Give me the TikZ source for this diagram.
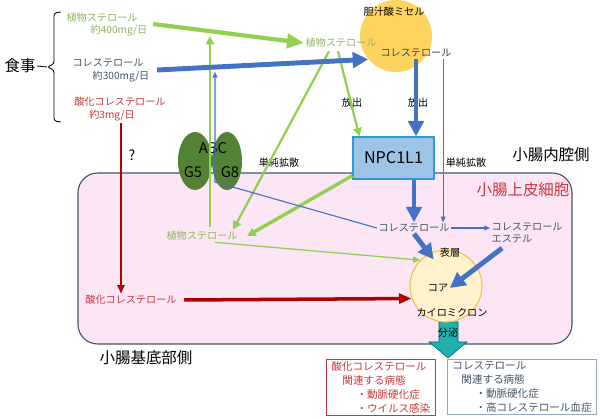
\documentclass[tikz,border=0pt]{standalone}
\usepackage{fontspec}
\setmainfont{Noto Sans CJK JP}
\usetikzlibrary{arrows.meta,calc,shapes.geometric}

\definecolor{plantgreen}{HTML}{92D050}
\definecolor{planttext}{HTML}{8DB45A}
\definecolor{cholblue}{HTML}{4472C4}
\definecolor{choltext}{HTML}{44546A}
\definecolor{oxred}{HTML}{B00000}
\definecolor{oxtext}{HTML}{C8383A}
\definecolor{cellpink}{HTML}{FCE6F6}
\definecolor{cellline}{HTML}{44546A}
\definecolor{abcgreen}{HTML}{548235}
\definecolor{npcfill}{HTML}{9DC3E6}
\definecolor{npcline}{HTML}{2E9BD6}
\definecolor{micellefill}{HTML}{FFD45E}
\definecolor{chylofill}{HTML}{FFF2CC}
\definecolor{chyloline}{HTML}{F2C14E}
\definecolor{secteal}{HTML}{1FB0B0}
\definecolor{boxblue}{HTML}{8EA9C8}

\begin{document}
\begin{tikzpicture}[x=0.025cm, y=-0.025cm,
  lbl/.style={font=\fontsize{7.2}{9}\selectfont, inner sep=1pt},
  big/.style={font=\fontsize{11}{13}\selectfont, inner sep=1pt},
  plant/.style={lbl, text=planttext},
  chol/.style={lbl, text=choltext},
  ox/.style={lbl, text=oxtext},
  gthick/.style={plantgreen, line width=3pt, -{Triangle[length=12pt,width=10pt]}},
  gmid/.style={plantgreen, line width=1.6pt, -{Triangle[length=6pt,width=6pt]}},
  gthin/.style={plantgreen, line width=0.9pt, -{Triangle[length=5pt,width=4.5pt]}},
  bthick/.style={cholblue, line width=3.5pt, -{Triangle[length=11pt,width=11pt]}},
  bthin/.style={cholblue, line width=0.8pt, -{Triangle[length=4pt,width=3.5pt]}},
  rarrow/.style={oxred, line width=1.5pt, -{Triangle[length=6pt,width=5pt]}},
  abc/.style={ellipse, fill=abcgreen, minimum width=0.85cm, minimum height=1.45cm, inner sep=0pt},
  diseasebox/.style={draw, line width=0.8pt, anchor=north west, align=left,
    inner xsep=3.5pt, inner ysep=1.5pt, font=\fontsize{7.5}{10}\selectfont}]
  \useasboundingbox (0,0) rectangle (600,419);

  % epithelial cell
  \draw[cellline, fill=cellpink, line width=0.8pt, rounded corners=14pt] (78,173) rectangle (572,344);
  \node[big, text=oxtext] (cellL) at (523,190) {小腸上皮細胞};
  \node[big] (lumen) at (551,155) {小腸内腔側};
  \node[big] (basal) at (146,358) {小腸基底部側};

  % diet
  \node[big] (diet) at (20,66) {食事};
  \coordinate (bracetip) at (47,67);
  \draw[line width=0.6pt, rounded corners=2pt] (61,12) -- (54,13) -- (54,64) -- (bracetip)
        -- (54,70) -- (54,121) -- (61,122);
  \draw[line width=0.6pt] (diet.east) -- (bracetip);
  \node[plant] (plant0) at (102,18) {植物ステロール};
  \node[plant] (plant0d) at (119,31) {約400mg/日};
  \node[chol] (chol0) at (108,63) {コレステロール};
  \node[chol] (chol0d) at (121,77) {約300mg/日};
  \node[ox] (ox0) at (120,102) {酸化コレステロール};
  \node[ox] (ox0d) at (112,116) {約3mg/日};
  \node[font=\fontsize{10}{12}\selectfont] (qmark) at (132,155) {?};

  % micelle
  \node[circle, fill=micellefill, minimum size=1.8cm, inner sep=0pt] (micelle) at (396,36) {};
  \node[lbl] (micelleL) at (394,12) {胆汁酸ミセル};
  \node[lbl, text=black!75] (cholM) at (416,53) {コレステロール};
  \node[plant] (plant1) at (341,43) {植物ステロール};

  % transporters
  \node[abc] (g5) at (195,161) {};
  \node[abc, minimum width=0.75cm] (g8) at (227,161) {};
  \node[font=\fontsize{10.5}{12}\selectfont, inner sep=0pt] (abcL) at (213,148) {ABC};
  \node[font=\fontsize{10.5}{12}\selectfont, inner sep=0pt] (g5L) at (193,172) {G5};
  \node[font=\fontsize{10.5}{12}\selectfont, inner sep=0pt] (g8L) at (230,172) {G8};
  \node[draw=npcline, fill=npcfill, line width=0.8pt, minimum width=2.025cm, minimum height=1.05cm,
        font=\fontsize{11.5}{13}\selectfont] (npc) at (393.5,158) {NPC1L1};
  \node[lbl] (rel1) at (352,103) {放出};
  \node[lbl] (rel2) at (418,103) {放出};
  \node[lbl] (diff1) at (279,163) {単純拡散};
  \node[lbl] (diff2) at (466,163) {単純拡散};

  % inside the cell
  \node[plant] (plant2) at (202,236) {植物ステロール};
  \node[chol] (chol1) at (414,228) {コレステロール};
  \node[chol, anchor=north west, align=left] (ester) at (490,221) {コレステロール\\エステル};
  \node[ox] (ox1) at (131,300) {酸化コレステロール};

  % chylomicron
  \fill[secteal, draw=teal!80!black, line width=0.4pt] (439,322) -- (458,322) -- (458,342) -- (467,342)
        -- (448,358) -- (429,342) -- (439,342) -- cycle;
  \node[lbl] (secr) at (448,333) {分泌};
  \node[circle, draw=chyloline, fill=chylofill, line width=0.8pt, minimum size=1.8cm, inner sep=0pt] (chylo) at (446,286) {};
  \node[lbl] (surf) at (450,253) {表層};
  \node[lbl] (core) at (438,288) {コア};
  \node[lbl] (chyloL) at (452,313) {カイロミクロン};

  % plant sterol flow
  \coordinate (effl) at (210,36);
  \draw[gthick] ($(plant0.east)+(14,6)$) -- (plant1.west);
  \draw[gmid] ($(plant1.south)+(-12,2)$) -- ($(plant2.north east)+(-6,0)$);
  \draw[gmid] ($(plant1.south)+(-3,2)$) -- ($(npc.north west)+(7,0)$);
  \draw[gmid, line width=2.4pt] ($(npc.south west)+(0,-4)$) -- ($(plant2.east)+(8,0)$);
  \draw[gmid, line width=2pt] ($(plant2.north)+(8,-3)$) -- (effl);
  \draw[gthin] ($(plant2.south)+(13,0)$) -- (chylo.135);

  % cholesterol flow
  \coordinate (abcbend) at (215,182);
  \coordinate (abcout) at (215,72);
  \coordinate (diffin) at ($(cholM.south east)+(-10,0)$);
  \draw[bthick] ($(chol0.east)+(12,7)$) -- (micelle.220);
  \draw[bthick] (cholM.south) -- (cholM.south |- npc.north);
  \draw[bthin] (diffin) -- (diffin |- chol1.north);
  \draw[bthick] (npc.south -| chol1.north) -- (chol1.north);
  \draw[bthin] (chol1.west) -- (abcbend) -- (abcout);
  \draw[bthin] (chol1.east) -- (chol1.east -| ester.west);
  \draw[bthick] (chol1.south) -- ($(chylo)!0.8!(chylo.115)$);
  \draw[bthick] ($(ester.south)+(-25,3)$) -- (core.east);

  % oxidised cholesterol flow
  \draw[rarrow] ($(ox0d.south)+(9,0)$) -- ($(ox1.north)+(-10,0)$);
  \draw[rarrow, line width=2.5pt, -{Triangle[length=9pt,width=7pt]}] ($(ox1.east)+(6,0)$) -- (chylo.200);

  % diseases
  \node[diseasebox, draw=oxtext, text=oxtext] (oxbox) at (326,359)
    {酸化コレステロール\\\hspace*{7.8pt}関連する病態\\\hspace*{17.8pt}・動脈硬化症\\\hspace*{17.8pt}・ウイルス感染};
  \node[diseasebox, draw=boxblue, text=choltext] (cholbox) at (447,359)
    {コレステロール\\\hspace*{6.4pt}関連する病態\\\hspace*{16.4pt}・動脈硬化症\\\hspace*{16.4pt}・高コレステロール血症};
\end{tikzpicture}
\end{document}
